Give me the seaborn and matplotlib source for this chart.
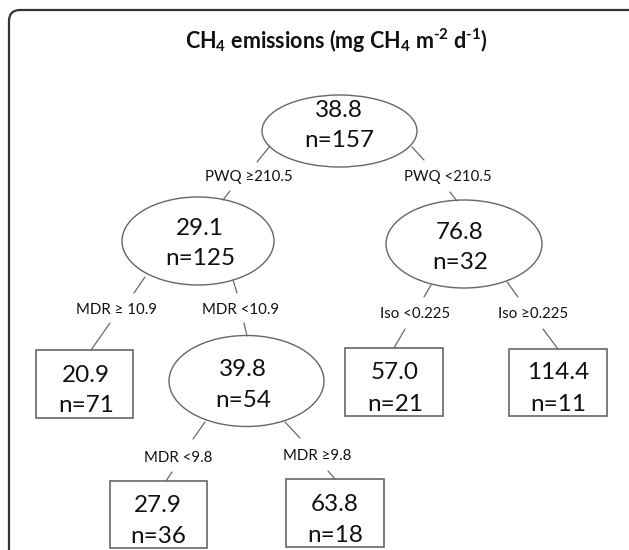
import seaborn as sns
import matplotlib.pyplot as plt
import pandas as pd
from matplotlib.patches import Ellipse, Rectangle, FancyBboxPatch

# node values of the regression tree (mean CH4 flux and sample size)
node_mean = [38.8, 29.1, 76.8, 20.9, 39.8, 57.0, 114.4, 27.9, 63.8]
node_n = [157, 125, 32, 71, 54, 21, 11, 36, 18]
node_leaf = [False, False, False, True, False, True, True, True, True]

# split labels, one per edge (parent -> child)
edge_parent = [0, 0, 1, 1, 2, 2, 4, 4]
edge_child = [1, 2, 3, 4, 5, 6, 7, 8]
split_label = ["PWQ \u2265210.5", "PWQ <210.5",
               "MDR \u2265 10.9", "MDR <10.9",
               "Iso <0.225", "Iso \u22650.225",
               "MDR <9.8", "MDR \u22659.8"]

title = r"CH$_4$ emissions (mg CH$_4$ m$^{\text{-2}}$ d$^{\text{-1}}$)"

# ---- layout (pixel coords of the 629x550 canvas) ----
# node: centre x, centre y, width, height, text x, text y line1, line2
node_pos = [
    (339.5, 131, 155, 72, 339, 108, 138),
    (198, 241, 152, 88, 200, 226, 256),
    (464, 244, 156, 88, 460, 230, 260),
    (84.5, 384, 97, 68, 86, 373, 403),
    (246.5, 381, 155, 91, 243, 367, 398),
    (394, 382, 98, 68, 395, 370, 402),
    (558, 382.5, 98, 67, 558, 370, 402),
    (158.5, 514.5, 97, 67, 158, 503, 534),
    (335, 513, 98, 68, 335, 502, 533),
]
label_pos = [(249, 175), (448, 175), (117, 308), (241, 308),
             (415, 313), (533, 313), (178, 456), (317, 455)]
# short connector strokes: parent -> label, label -> child
seg_up = [((270, 146), (257, 162)), ((412, 147), (424, 160)),
          ((145, 277), (134, 293)), ((233, 280), (237, 293)),
          ((431, 285), (424, 297)), ((507, 282), (518, 297)),
          ((205, 422), (193, 439)), ((285, 422), (300, 438))]
seg_down = [((230, 191), (223, 200)), ((450, 192), (457, 201)),
            ((110, 323), (91, 350)), ((244, 323), (247, 336)),
            ((405, 329), (394, 348)), ((543, 329), (558, 349)),
            ((172, 472), (166, 481)), ((328, 471), (335, 479))]

sns.set_theme(style="white")
plt.rcParams['font.family'] = ['Lato', 'DejaVu Sans']
plt.rcParams['mathtext.fontset'] = 'custom'
plt.rcParams['mathtext.rm'] = 'Lato:bold'
plt.rcParams['mathtext.it'] = 'Lato:bold'
plt.rcParams['mathtext.bf'] = 'Lato:bold'

fig = plt.figure(figsize=(6.29, 5.5), dpi=100)
ax = fig.add_axes([0, 0, 1, 1])

# outer rounded frame (runs off the right and bottom of the crop)
frame = FancyBboxPatch((9, 10), 640, 600, boxstyle="round,pad=0,rounding_size=11",
                       fill=False, edgecolor="#333333", lw=1.6)
ax.add_patch(frame)

# connectors drawn through seaborn
rows = []
for k, (a, b) in enumerate(seg_up + seg_down):
    rows.append({"x": a[0], "y": a[1], "seg": k})
    rows.append({"x": b[0], "y": b[1], "seg": k})
seg_df = pd.DataFrame(rows)
sns.lineplot(data=seg_df, x="x", y="y", units="seg", estimator=None, sort=False,
             color="#6a6a6a", lw=0.9, ax=ax, legend=False)
ax.set_xlim(0, 629)
ax.set_ylim(550, 0)
ax.axis("off")

for i, (m, n) in enumerate(zip(node_mean, node_n)):
    cx, cy, w, h, tx, t1, t2 = node_pos[i]
    if node_leaf[i]:
        ax.add_patch(Rectangle((cx - w / 2, cy - h / 2), w, h, fill=False,
                               edgecolor="#666666", lw=1.2))
    else:
        ax.add_patch(Ellipse((cx, cy), w, h, fill=False, edgecolor="#666666", lw=1.0))
    # text y given as visual centre of digits; shift to baseline
    ax.text(tx, t1 + 9, f"{m:.1f}", ha="center", va="baseline",
            fontsize=17.5, color="#111111")
    ax.text(tx, t2 + 9, f"n={n}", ha="center", va="baseline",
            fontsize=17.5, color="#111111")

for (lx, ly), lab in zip(label_pos, split_label):
    ax.text(lx, ly + 5.5, lab, ha="center", va="baseline", fontsize=10.8,
            color="#111111")

ax.text(336, 49, title, ha="center", va="baseline", fontsize=15.5,
        fontweight="bold", color="#111111")

fig.savefig("out.png", dpi=100)
